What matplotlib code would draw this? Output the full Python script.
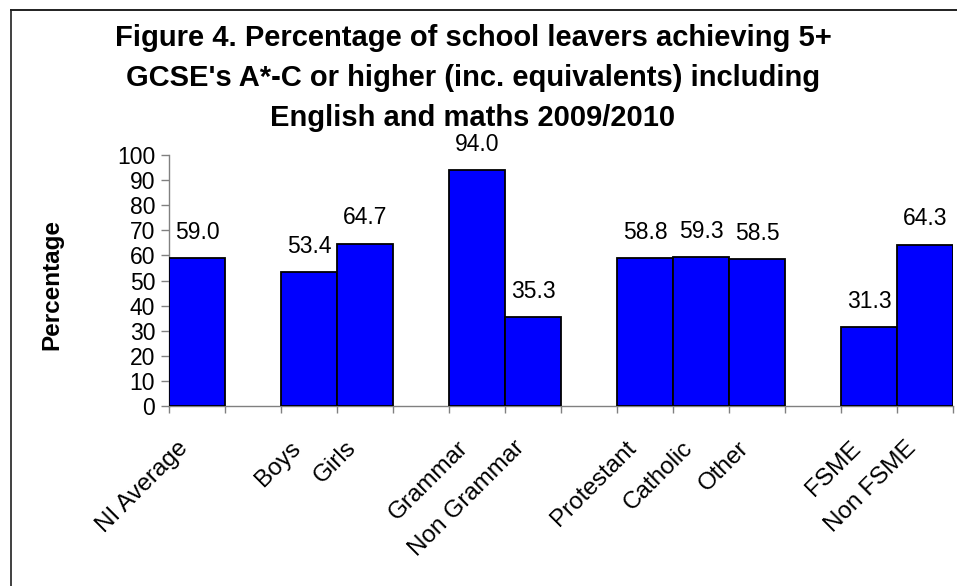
import numpy as np
import matplotlib
matplotlib.use("Agg")
import matplotlib.pyplot as plt
from matplotlib.lines import Line2D
from matplotlib.transforms import ScaledTranslation

# ---- data ----
categories = ["NI Average", "", "Boys", "Girls", "", "Grammar", "Non Grammar", "",
              "Protestant", "Catholic", "Other", "", "FSME", "Non FSME"]
values = [59.0, np.nan, 53.4, 64.7, np.nan, 94.0, 35.3, np.nan,
          58.8, 59.3, 58.5, np.nan, 31.3, 64.3]
title_lines = ["Figure 4. Percentage of school leavers achieving 5+",
               "GCSE's A*-C or higher (inc. equivalents) including",
               "English and maths 2009/2010"]
y_label = "Percentage"
y_ticks = [0, 10, 20, 30, 40, 50, 60, 70, 80, 90, 100]

plt.rcParams['font.family'] = ['Liberation Sans', 'DejaVu Sans']

W, H = 957, 586
fig = plt.figure(figsize=(W / 100, H / 100), dpi=100)

ax = fig.add_axes([169 / W, (H - 406) / H, (953 - 169) / W, (406 - 155) / H])

n = len(categories)
centers = np.arange(n) + 0.5
vals = np.array(values, dtype=float)
mask = ~np.isnan(vals)
ax.bar(centers[mask], vals[mask], width=1.0, color='#0000FF',
       edgecolor='black', linewidth=1.3, zorder=3)

for x, v in zip(centers[mask], vals[mask]):
    ax.annotate(f"{v:.1f}", (x, v), xytext=(0, 18.5), textcoords='offset points',
                ha='center', va='center', fontsize=16.5, color='black')

ax.set_xlim(0, n)
ax.set_ylim(0, 100)
ax.set_yticks(y_ticks)
ax.set_yticklabels([str(t) for t in y_ticks], fontsize=16.5)

# tick marks at category boundaries, labels at centers
ax.set_xticks(np.arange(n + 1))
ax.set_xticklabels([])
ax.set_xticks(centers, minor=True)
ax.tick_params(axis='x', which='major', length=5, width=1, color='#808080', direction='out')
ax.tick_params(axis='x', which='minor', length=0, pad=28)
ax.tick_params(axis='y', length=6, width=1, color='#808080', direction='out', pad=4)
ax.set_xticklabels(categories, minor=True, rotation=45, ha='right', va='center',
                   rotation_mode='anchor', fontsize=17.5)
shift = ScaledTranslation(-12 / 100, 0, fig.dpi_scale_trans)
for lbl in ax.get_xticklabels(minor=True):
    lbl.set_transform(lbl.get_transform() + shift)

for s in ['top', 'right']:
    ax.spines[s].set_visible(False)
for s in ['left', 'bottom']:
    ax.spines[s].set_color('#808080')
    ax.spines[s].set_linewidth(1)

fig.text(52 / W, 1 - 285 / H, y_label, rotation=90, ha='center', va='center',
         fontsize=17.5, fontweight='bold')

for line, base in zip(title_lines, [46, 86.5, 126.5]):
    fig.text(473 / W, 1 - base / H, line, ha='center', va='baseline',
             fontsize=21, fontweight='bold')

# outer frame (cropped at right and bottom)
fig.add_artist(Line2D([11 / W, 11 / W], [0, 1 - 10 / H], transform=fig.transFigure,
                      color='#404040', linewidth=1.4))
fig.add_artist(Line2D([11 / W, 1], [1 - 10 / H, 1 - 10 / H], transform=fig.transFigure,
                      color='#202020', linewidth=1.4))

fig.savefig("out.png", dpi=100)
